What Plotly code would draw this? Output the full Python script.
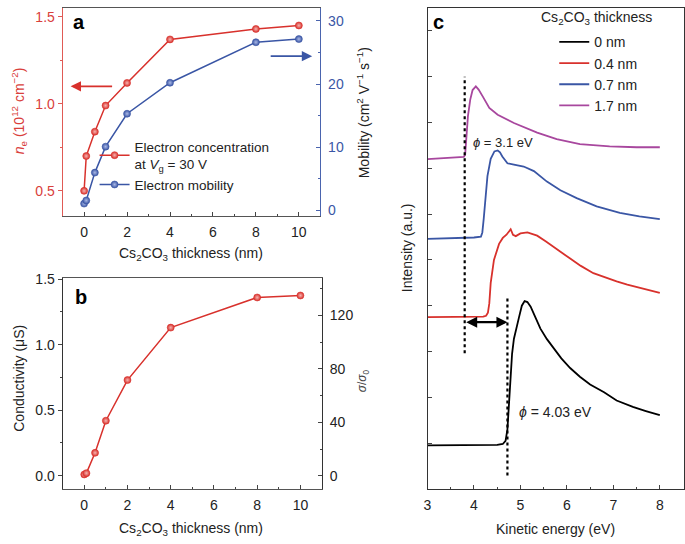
import plotly.graph_objects as go

# panel a: carrier density and mobility vs Cs2CO3 thickness
thickness = [0, 0.1, 0.5, 1, 2, 4, 8, 10]
ne = [0.50, 0.70, 0.84, 0.99, 1.12, 1.37, 1.43, 1.45]
mobility = [1.1, 1.6, 6.0, 10.1, 15.3, 20.2, 26.6, 27.1]

# panel b: conductivity (uS)
conductivity = [0.01, 0.02, 0.175, 0.42, 0.73, 1.13, 1.36, 1.375]

# panel c: UPS cut-off spectra (offset, a.u.)
spec_labels = ["0 nm", "0.4 nm", "0.7 nm", "1.7 nm"]
e_0nm = [3.0, 3.5, 4.0, 4.5, 4.62, 4.68, 4.72, 4.76, 4.79, 4.82, 4.86, 4.93, 4.97, 5.03, 5.09,
         5.15, 5.22, 5.32, 5.43, 5.57, 5.71, 5.88, 6.07, 6.28, 6.5, 6.8, 7.07, 7.42, 7.7, 8.0]
i_0nm = [0.95, 0.95, 0.95, 0.96, 0.98, 1.05, 1.3, 1.9, 2.5, 2.95, 3.28, 3.62, 3.75, 4.0, 4.10,
         4.08, 3.98, 3.75, 3.50, 3.27, 3.07, 2.85, 2.64, 2.45, 2.28, 2.11, 1.93, 1.79, 1.70, 1.61]
e_04nm = [3.0, 3.5, 4.0, 4.2, 4.26, 4.3, 4.33, 4.36, 4.43, 4.54, 4.62, 4.7, 4.79, 4.84, 4.9,
          5.0, 5.15, 5.36, 5.55, 5.71, 5.9, 6.07, 6.3, 6.57, 6.8, 7.07, 7.3, 7.56, 7.8, 8.0]
i_04nm = [3.75, 3.75, 3.75, 3.76, 3.78, 3.85, 4.05, 4.5, 5.0, 5.35, 5.48, 5.55, 5.67, 5.55, 5.52,
          5.58, 5.60, 5.53, 5.40, 5.28, 5.15, 5.03, 4.87, 4.71, 4.62, 4.53, 4.46, 4.39, 4.33, 4.28]
e_07nm = [3.0, 3.5, 4.0, 4.15, 4.18, 4.21, 4.24, 4.29, 4.36, 4.44, 4.51, 4.56, 4.61, 4.72,
          4.86, 5.07, 5.29, 5.57, 5.86, 6.21, 6.64, 7.14, 7.56, 8.0]
i_07nm = [5.46, 5.47, 5.49, 5.51, 5.6, 5.9, 6.25, 6.83, 7.21, 7.37, 7.39, 7.35, 7.26, 7.11,
          7.08, 7.04, 6.94, 6.71, 6.52, 6.35, 6.17, 6.03, 5.95, 5.89]
e_17nm = [3.0, 3.4, 3.78, 3.81, 3.83, 3.87, 3.92, 3.97, 4.04, 4.1, 4.2, 4.33, 4.51, 4.86,
          5.36, 5.78, 6.28, 6.92, 7.5, 8.0]
i_17nm = [7.20, 7.22, 7.25, 7.3, 7.64, 8.14, 8.5, 8.71, 8.79, 8.72, 8.55, 8.32, 8.17, 7.99,
          7.78, 7.64, 7.53, 7.48, 7.46, 7.46]

# work-function markers
cutoff_e = [3.8, 4.72]
arrow_level = 3.64

FONT = "Liberation Sans, Arial, sans-serif"
RED = "#d8312c"
BLUE = "#3a56a5"
PURPLE = "#a8479e"

fig = go.Figure()


def ball(color, centre):
    return dict(size=7, color=color, line=dict(width=0.6, color=color),
                gradient=dict(type="radial", color=centre))


fig.add_trace(go.Scatter(x=thickness, y=ne, mode="lines+markers", xaxis="x", yaxis="y",
                         name="Electron concentration<br>at <i>V</i><sub>g</sub> = 30 V",
                         line=dict(color=RED, width=1.5), marker=ball(RED, "#f6b3b0"),
                         legend="legend"))
fig.add_trace(go.Scatter(x=thickness, y=mobility, mode="lines+markers", xaxis="x", yaxis="y2",
                         name="Electron mobility",
                         line=dict(color=BLUE, width=1.5), marker=ball(BLUE, "#aab8e6"),
                         legend="legend"))
fig.add_trace(go.Scatter(x=thickness, y=conductivity, mode="lines+markers", xaxis="x2", yaxis="y3",
                         line=dict(color=RED, width=1.5), marker=ball(RED, "#f6b3b0"),
                         showlegend=False))
# keeps the sigma/sigma0 axis alive
fig.add_trace(go.Scatter(x=[None], y=[None], xaxis="x2", yaxis="y4", showlegend=False))

for xs, ys, col, lab in [(e_0nm, i_0nm, "black", spec_labels[0]),
                         (e_04nm, i_04nm, RED, spec_labels[1]),
                         (e_07nm, i_07nm, BLUE, spec_labels[2]),
                         (e_17nm, i_17nm, PURPLE, spec_labels[3])]:
    fig.add_trace(go.Scatter(x=xs, y=ys, mode="lines", xaxis="x3", yaxis="y5", name=lab,
                             line=dict(color=col, width=1.8), legend="legend2"))

tickfont = dict(family=FONT, size=14, color="#222")
xa = dict(range=[-1, 11], tickvals=[0, 2, 4, 6, 8, 10], ticks="inside", ticklen=4,
          minor=dict(dtick=1, ticks="inside", ticklen=2), showline=True, linecolor="#555",
          mirror=True, showgrid=False, zeroline=False, tickfont=tickfont, ticklabelstandoff=3)

fig.update_layout(
    width=685, height=544, margin=dict(l=0, r=0, t=0, b=0),
    plot_bgcolor="white", paper_bgcolor="white",
    font=dict(family=FONT, size=14, color="#222"),
    xaxis=dict(xa, domain=[0.0861, 0.4645], anchor="y"),
    yaxis=dict(domain=[0.6085, 0.998], anchor="x", range=[0.353, 1.55], tickvals=[0.5, 1.0, 1.5],
               tickformat=".1f", ticks="outside", ticklen=4, tickcolor="#e05a55",
               minor=dict(dtick=0.25, ticks="outside", ticklen=2, tickcolor="#e05a55"),
               showline=True, linecolor="#e05a55", showgrid=False, zeroline=False,
               tickfont=dict(family=FONT, size=14, color="#d9403b")),
    yaxis2=dict(overlaying="y", side="right", anchor="x", range=[-0.93, 32.0],
                tickvals=[0, 10, 20, 30], ticks="inside", ticklen=4, tickcolor="#4a64ae",
                minor=dict(dtick=5, ticks="inside", ticklen=2, tickcolor="#4a64ae"),
                showline=True, linecolor="#4a64ae", showgrid=False, zeroline=False,
                tickfont=dict(family=FONT, size=14, color="#3a56a5"), ticklabelstandoff=4),
    xaxis2=dict(xa, domain=[0.0861, 0.467], anchor="y3"),
    yaxis3=dict(domain=[0.0993, 0.4926], anchor="x2", range=[-0.1, 1.505],
                tickvals=[0, 0.5, 1.0, 1.5], tickformat=".1f", ticks="outside", ticklen=4,
                minor=dict(dtick=0.25, ticks="outside", ticklen=2),
                showline=True, linecolor="#333", showgrid=False, zeroline=False, tickfont=tickfont),
    yaxis4=dict(overlaying="y3", side="right", anchor="x2", range=[-9.8, 147.6],
                tickvals=[0, 40, 80, 120], ticks="inside", ticklen=4,
                minor=dict(dtick=20, ticks="inside", ticklen=2),
                showline=True, linecolor="#333", showgrid=False, zeroline=False,
                tickfont=tickfont, ticklabelstandoff=4),
    xaxis3=dict(domain=[0.6219, 0.9985], anchor="y5", range=[3, 8.52], dtick=1, ticks="inside",
                ticklen=4, minor=dict(dtick=0.5, ticks="inside", ticklen=2), showline=True,
                linecolor="#333", mirror=True, showgrid=False, zeroline=False, tickfont=tickfont,
                ticklabelstandoff=3),
    yaxis5=dict(domain=[0.0993, 0.998], anchor="x3", range=[0, 10.5], dtick=1, ticks="inside",
                ticklen=4, showticklabels=False, showline=True, linecolor="#333", mirror=True,
                showgrid=False, zeroline=False),
    legend=dict(x=0.133, y=0.768, xanchor="left", yanchor="top", bgcolor="rgba(0,0,0,0)",
                font=dict(family=FONT, size=13.5, color="#222"), itemwidth=30,
                tracegroupgap=4),
    legend2=dict(x=0.808, y=0.964, xanchor="left", yanchor="top", bgcolor="rgba(0,0,0,0)",
                 font=dict(family=FONT, size=14, color="#222"), itemwidth=30),
)

# dotted cut-off lines and the work-function shift arrow
fig.add_shape(type="line", xref="x3", yref="y5", x0=cutoff_e[0], x1=cutoff_e[0], y0=2.96, y1=9.0,
              line=dict(color="black", width=2.2, dash="dot"))
fig.add_shape(type="line", xref="x3", yref="y5", x0=cutoff_e[1], x1=cutoff_e[1], y0=0.29, y1=4.21,
              line=dict(color="black", width=2.2, dash="dot"))
fig.add_annotation(xref="x3", yref="y5", axref="x3", ayref="y5", x=cutoff_e[1], y=arrow_level,
                   ax=cutoff_e[0], ay=arrow_level, text="", showarrow=True, arrowside="end+start",
                   arrowhead=2, arrowsize=1, arrowwidth=2.2, arrowcolor="black")

annots = [
    dict(x=3.93, y=7.57, xref="x3", yref="y5", text="<i>ϕ</i> = 3.1 eV", xanchor="left", size=13),
    dict(x=4.93, y=1.68, xref="x3", yref="y5", text="<i>ϕ</i> = 4.03 eV", xanchor="left", size=14),
    dict(x=0.785, y=0.98, text="Cs<sub>2</sub>CO<sub>3</sub> thickness", xanchor="left", size=14),
    dict(x=0.2745, y=0.538, text="Cs<sub>2</sub>CO<sub>3</sub> thickness (nm)", size=14),
    dict(x=0.2745, y=0.024, text="Cs<sub>2</sub>CO<sub>3</sub> thickness (nm)", size=14),
    dict(x=0.810, y=0.024, text="Kinetic energy (eV)", size=14),
    dict(x=0.022, y=0.807, text="<i>n</i><sub>e</sub> (10<sup>12</sup> cm<sup>−2</sup>)",
         angle=-90, size=14, color="#d9403b"),
    dict(x=0.5285, y=0.803, text="Mobility (cm<sup>2</sup> V<sup>−1</sup> s<sup>−1</sup>)",
         angle=-90, size=14),
    dict(x=0.022, y=0.307, text="Conductivity (μS)", angle=-90, size=14),
    dict(x=0.5285, y=0.302, text="<i>σ</i>/<i>σ</i><sub>0</sub>", angle=-90, size=12, color="#444"),
    dict(x=0.591, y=0.55, text="Intensity (a.u.)", angle=-90, size=14),
    dict(x=0.1095, y=0.972, text="<b>a</b>", size=20, color="black"),
    dict(x=0.1125, y=0.458, text="<b>b</b>", size=20, color="black"),
    dict(x=0.638, y=0.972, text="<b>c</b>", size=20, color="black"),
]
for a in annots:
    fig.add_annotation(x=a["x"], y=a["y"], xref=a.get("xref", "paper"), yref=a.get("yref", "paper"),
                       text=a["text"], showarrow=False, xanchor=a.get("xanchor", "center"),
                       yanchor="middle", textangle=a.get("angle", 0),
                       font=dict(family=FONT, size=a["size"], color=a.get("color", "#222")))

# pointer arrows telling which axis each curve belongs to
fig.add_annotation(xref="paper", yref="paper", x=67 / 685, y=1 - 80.7 / 544, ax=43, ay=0,
                   text="", showarrow=True, arrowhead=2, arrowsize=1.3, arrowwidth=1.6,
                   arrowcolor=RED)
fig.add_annotation(xref="paper", yref="paper", x=310 / 685, y=1 - 50 / 544, ax=-43, ay=0,
                   text="", showarrow=True, arrowhead=2, arrowsize=1.3, arrowwidth=1.6,
                   arrowcolor=BLUE)

# the page's default body margin would shift the whole figure by 8px
fig.write_html("out.html", config={"displayModeBar": False},
               post_script="document.body.style.margin='0';")
